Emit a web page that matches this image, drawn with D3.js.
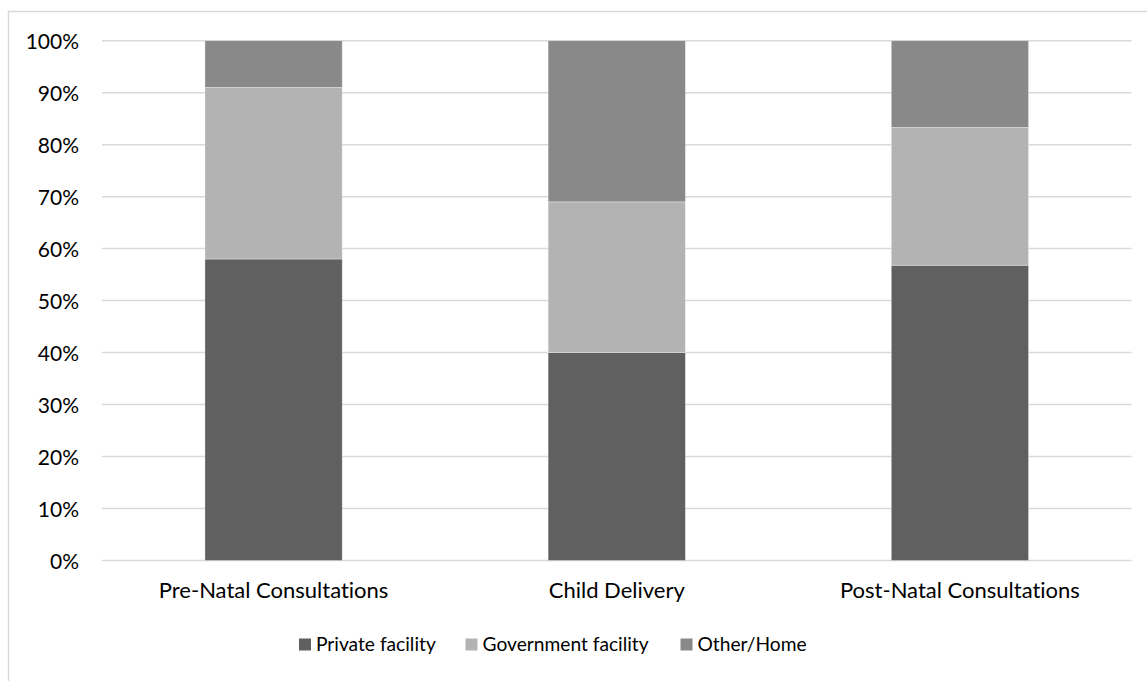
<!DOCTYPE html>
<html>
<head>
<meta charset="utf-8">
<script src="https://cdn.jsdelivr.net/npm/d3@7"></script>
<style>
  html, body { margin: 0; padding: 0; background: #fff; }
  svg { display: block; }
  text {
    font-family: Lato, "Open Sans", "Noto Sans", sans-serif;
    fill: #000;
    font-variant-ligatures: none;
    font-feature-settings: "liga" 0, "clig" 0;
  }
</style>
</head>
<body>
<svg id="chart" width="1147" height="681"></svg>
<script>
// Place of care, share of respondents (%)
const categories = ["Pre-Natal Consultations", "Child Delivery", "Post-Natal Consultations"];
const seriesNames = ["Private facility", "Government facility", "Other/Home"];
const privateFacility = [58.0, 40.0, 56.8];
const governmentFacility = [33.0, 29.0, 26.5];
const otherHome = [9.0, 31.0, 16.7];
const yTicks = [0, 10, 20, 30, 40, 50, 60, 70, 80, 90, 100];
const colors = ["#606060", "#b3b3b3", "#898989"];

const rows = categories.map((c, i) => ({
  category: c,
  "Private facility": privateFacility[i],
  "Government facility": governmentFacility[i],
  "Other/Home": otherHome[i]
}));

const svg = d3.select("#chart");
const plot = { left: 102, right: 1131.5, top: 40.7, bottom: 560.5 };

// outer chart frame (extends past the visible area)
svg.append("rect")
  .attr("x", 8.5).attr("y", 11.5)
  .attr("width", 1300).attr("height", 800)
  .attr("fill", "none")
  .attr("stroke", "#d9d9d9")
  .attr("stroke-width", 1.5);

const x = d3.scaleBand()
  .domain(categories)
  .range([plot.left, plot.right])
  .paddingInner(0).paddingOuter(0);

const y = d3.scaleLinear()
  .domain([0, 100])
  .range([plot.bottom, plot.top]);

// horizontal gridlines
svg.append("g")
  .selectAll("line")
  .data(yTicks)
  .join("line")
  .attr("x1", plot.left).attr("x2", plot.right)
  .attr("y1", d => y(d)).attr("y2", d => y(d))
  .attr("stroke", "#d9d9d9")
  .attr("stroke-width", 1.5);

// y axis labels
const yAxis = d3.axisLeft(y)
  .tickValues(yTicks)
  .tickFormat(d => d + "%")
  .tickSize(0)
  .tickPadding(0);
const yg = svg.append("g")
  .attr("transform", `translate(79,0)`)
  .call(yAxis);
yg.select(".domain").remove();
yg.selectAll("text")
  .attr("dy", "0.36em")
  .style("font-family", "Lato, 'Open Sans', sans-serif")
  .style("font-size", "21px")
  .attr("fill", "#000");

// stacked bars
const stack = d3.stack().keys(seriesNames);
const layers = stack(rows);
const barFrac = 0.4;
const barW = x.bandwidth() * barFrac;

svg.append("g")
  .selectAll("g")
  .data(layers)
  .join("g")
  .attr("fill", (d, i) => colors[i])
  .selectAll("rect")
  .data(d => d)
  .join("rect")
  .attr("x", d => x(d.data.category) + (x.bandwidth() - barW) / 2)
  .attr("width", barW)
  .attr("y", d => y(d[1]))
  .attr("height", d => y(d[0]) - y(d[1]))
  .attr("stroke", "#ffffff")
  .attr("stroke-opacity", 0.45)
  .attr("stroke-width", 0.75);

// category axis labels
const xAxis = d3.axisBottom(x).tickSize(0).tickPadding(0);
const xg = svg.append("g")
  .attr("transform", `translate(0,598)`)
  .call(xAxis);
xg.select(".domain").remove();
xg.selectAll("text")
  .attr("dy", "0")
  .attr("y", 0)
  .style("font-family", "Lato, 'Open Sans', sans-serif")
  .style("font-size", "22px")
  .attr("fill", "#000");

// legend
const legendItems = [
  { name: seriesNames[0], color: colors[0], x: 299 },
  { name: seriesNames[1], color: colors[1], x: 465.5 },
  { name: seriesNames[2], color: colors[2], x: 680.5 }
];
const lg = svg.append("g");
const li = lg.selectAll("g").data(legendItems).join("g")
  .attr("transform", d => `translate(${d.x},0)`);
li.append("rect")
  .attr("x", 0).attr("y", 638.5)
  .attr("width", 12).attr("height", 12)
  .attr("fill", d => d.color);
li.append("text")
  .attr("x", 17).attr("y", 651)
  .style("font-size", "19.2px")
  .text(d => d.name);
</script>
</body>
</html>
